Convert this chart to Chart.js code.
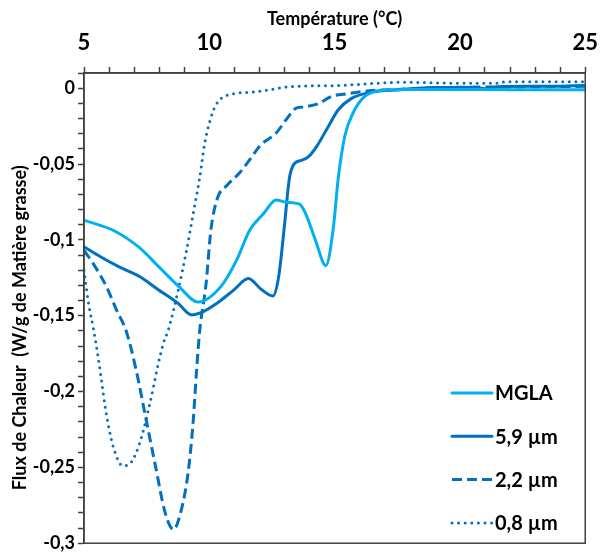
<!DOCTYPE html>
<html>
<head>
<meta charset="utf-8">
<script src="https://cdn.jsdelivr.net/npm/chart.js@4.4.0/dist/chart.umd.min.js"></script>
<style>
body { margin: 0; background: #ffffff; }
#wrap { width: 609px; height: 557px; }
</style>
</head>
<body>
<div id="wrap"><canvas id="myChart" width="609" height="557"></canvas></div>
<script>
// Températures (°C) et flux de chaleur
var seriesNames = ["MGLA", "5,9 µm", "2,2 µm", "0,8 µm"];

var mglaX = [5, 6.2, 7.2, 8, 8.8, 9.55, 10.45, 11.1, 11.6, 12.15, 12.67, 13.06, 13.6, 13.85, 14.23, 14.65, 14.95, 15.14, 15.4, 15.73, 16.18, 16.84, 18, 20, 22, 25];
var mglaY = [-0.087, -0.094, -0.105, -0.118, -0.131, -0.141, -0.131, -0.113, -0.094, -0.083, -0.0737, -0.0752, -0.0765, -0.083, -0.1, -0.117, -0.092, -0.06, -0.032, -0.0166, -0.0058, -0.0015, -0.0008, -0.0008, -0.001, -0.001];

var m59X = [5, 5.64, 6.42, 7.2, 7.98, 8.76, 9.3, 9.67, 10.32, 10.98, 11.56, 12.08, 12.54, 12.77, 12.99, 13.19, 13.38, 13.71, 13.97, 14.3, 14.75, 15.14, 15.66, 16.45, 17.6, 19, 20.5, 21.1, 21.5, 23, 25];
var m59Y = [-0.1045, -0.111, -0.118, -0.124, -0.133, -0.142, -0.1495, -0.148, -0.1416, -0.133, -0.1255, -0.1328, -0.137, -0.124, -0.092, -0.06, -0.05, -0.0474, -0.045, -0.038, -0.0252, -0.0144, -0.0069, -0.0026, -0.001, 0.0004, 0.0005, -0.0005, 0.001, 0.0012, 0.0017];

var m22X = [5, 5.38, 5.9, 6.29, 6.68, 7.07, 7.46, 7.85, 8.24, 8.57, 8.89, 9.15, 9.35, 9.48, 9.61, 9.87, 10.06, 10.32, 10.71, 11.23, 11.63, 12.02, 12.67, 13.06, 13.45, 13.71, 14.36, 14.88, 15.53, 16.5, 17.5, 19, 22, 25];
var m22Y = [-0.107, -0.116, -0.131, -0.146, -0.16, -0.185, -0.217, -0.249, -0.28, -0.291, -0.2775, -0.254, -0.221, -0.189, -0.161, -0.129, -0.094, -0.0727, -0.064, -0.0554, -0.0468, -0.038, -0.0295, -0.0209, -0.0133, -0.0125, -0.0101, -0.0054, -0.0036, -0.0015, -0.0008, 0.0003, 0.0008, 0.0012];

var m08X = [5, 5.18, 5.38, 5.57, 5.7, 5.83, 5.96, 6.16, 6.55, 6.81, 7.07, 7.33, 7.59, 7.79, 7.98, 8.18, 8.37, 8.76, 9.09, 9.35, 9.61, 9.8, 10, 10.26, 10.71, 11.76, 13.32, 15, 17.86, 20, 21.6, 21.8, 25];
var m08Y = [-0.12, -0.1417, -0.159, -0.178, -0.193, -0.2085, -0.221, -0.236, -0.249, -0.248, -0.2408, -0.228, -0.2106, -0.1955, -0.1805, -0.1675, -0.159, -0.133, -0.107, -0.0834, -0.0597, -0.038, -0.023, -0.0112, -0.0047, -0.0026, 0.0011, 0.0017, 0.0039, 0.0032, 0.0032, 0.0043, 0.0043];

var xMin = 5, xMax = 25;
var yMin = -0.3, yMax = 0.01;

var lightBlue = "#00B0F0";
var darkBlue = "#0070C0";
var axisColor = "#404040";
var fontName = "Lato";

function toPoints(xs, ys){
	var pts = [];
	for (var i = 0; i < xs.length; i++) {
		pts.push({x: xs[i], y: ys[i]});
	}
	return pts;
}

function makeDataset(label, xs, ys, color, dash, cap){
	return {
		label: label,
		data: toPoints(xs, ys),
		borderColor: color,
		backgroundColor: color,
		borderWidth: 3,
		borderDash: dash,
		borderCapStyle: cap,
		borderJoinStyle: "round",
		pointRadius: 0,
		fill: false,
		cubicInterpolationMode: "monotone"
	};
}

function yLabel(value){
	var c = Math.round(value * 100);
	if (c % 5 != 0) return "";
	if (c == 0) return "0";
	return String(c / 100).replace(".", ",");
}

function xLabel(value){
	var v = Math.round(value);
	if (v % 5 != 0) return "";
	return String(v);
}

// cadre autour de la zone de tracé
var framePlugin = {
	id: "frame",
	afterDatasetsDraw: function(chart){
		var a = chart.chartArea;
		var ctx = chart.ctx;
		ctx.save();
		ctx.strokeStyle = axisColor;
		ctx.lineWidth = 1.5;
		ctx.strokeRect(a.left, a.top, a.right - a.left, a.bottom - a.top);
		ctx.restore();
	}
};

// légende dans le coin en bas à droite
var legendPlugin = {
	id: "insideLegend",
	afterDraw: function(chart){
		var ctx = chart.ctx;
		var sets = chart.data.datasets;
		var x0 = 452, lineLen = 40, textX = 495;
		var y0 = 393, step = 43.3;
		ctx.save();
		for (var i = 0; i < sets.length; i++) {
			var ds = sets[i];
			var y = y0 + i * step;
			ctx.beginPath();
			ctx.strokeStyle = ds.borderColor;
			ctx.lineWidth = ds.borderWidth;
			ctx.lineCap = ds.borderCapStyle;
			ctx.setLineDash(ds.borderDash);
			ctx.moveTo(x0, y);
			ctx.lineTo(x0 + lineLen, y);
			ctx.stroke();
			ctx.setLineDash([]);
			ctx.fillStyle = "#000000";
			ctx.font = "bold 20px " + fontName;
			ctx.textBaseline = "middle";
			ctx.textAlign = "left";
			ctx.fillText(ds.label, textX, y + 1);
		}
		ctx.restore();
	}
};

function drawChart(){
	var ctx = document.getElementById("myChart").getContext("2d");

	var datasets = [
		makeDataset(seriesNames[0], mglaX, mglaY, lightBlue, [], "round"),
		makeDataset(seriesNames[1], m59X, m59Y, darkBlue, [], "round"),
		makeDataset(seriesNames[2], m22X, m22Y, darkBlue, [10, 5], "butt"),
		makeDataset(seriesNames[3], m08X, m08Y, darkBlue, [0, 6.6], "round")
	];

	new Chart(ctx, {
		type: "line",
		data: { datasets: datasets },
		plugins: [framePlugin, legendPlugin],
		options: {
			responsive: false,
			animation: false,
			devicePixelRatio: 1,
			layout: { padding: { left: 0, top: 0, right: 13, bottom: 6 } },
			plugins: {
				legend: { display: false },
				tooltip: { enabled: false }
			},
			scales: {
				x: {
					type: "linear",
					position: "top",
					min: xMin,
					max: xMax,
					afterFit: function(scale){ scale.height = 73; },
					ticks: {
						stepSize: 1,
						autoSkip: false,
						maxRotation: 0,
						padding: 11,
						color: "#000000",
						font: { family: fontName, size: 22, weight: "bold" },
						callback: xLabel
					},
					grid: {
						drawOnChartArea: false,
						tickLength: 6,
						tickColor: axisColor,
						tickWidth: 1.5
					},
					border: { display: true, color: axisColor, width: 1.5 },
					title: {
						display: true,
						text: "Température (°C)",
						color: "#000000",
						font: { family: fontName, size: 18, weight: "bold" },
						padding: { top: 8, bottom: 0 }
					}
				},
				y: {
					type: "linear",
					position: "left",
					min: yMin,
					max: yMax,
					afterFit: function(scale){ scale.width = 84; },
					ticks: {
						stepSize: 0.01,
						autoSkip: false,
						padding: 3,
						color: "#000000",
						font: { family: fontName, size: 18, weight: "bold" },
						callback: yLabel
					},
					grid: {
						drawOnChartArea: false,
						tickLength: 6,
						tickColor: axisColor,
						tickWidth: 1.5
					},
					border: { display: true, color: axisColor, width: 1.5 },
					title: {
						display: true,
						text: "Flux de Chaleur  (W/g de Matière grasse)         ",
						color: "#000000",
						font: { family: fontName, size: 18, weight: "bold" },
						padding: { top: 9, bottom: 0 }
					}
				}
			}
		}
	});
}

drawChart();
</script>
</body>
</html>
